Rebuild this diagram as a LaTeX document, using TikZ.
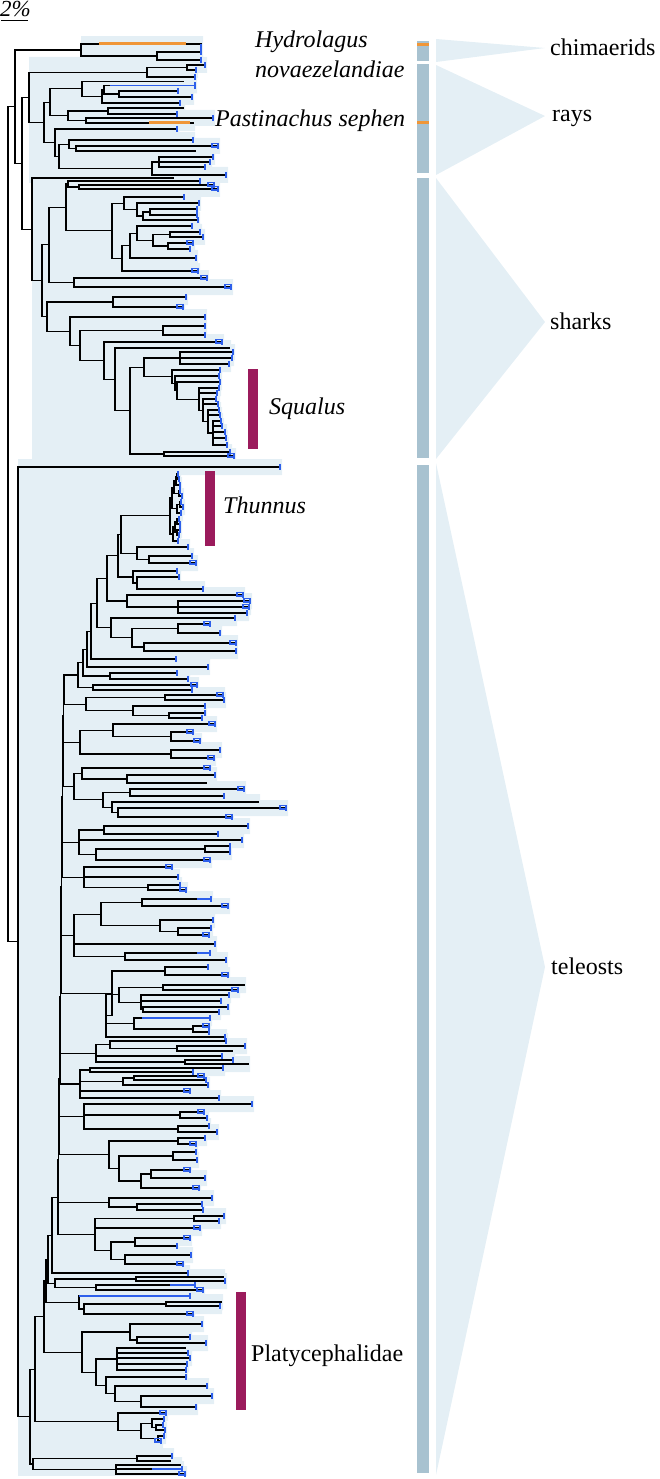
\documentclass[tikz,border=0pt]{standalone}
\usepackage{fontspec}
\setmainfont{Liberation Serif}
\pgfdeclarelayer{bg}
\pgfsetlayers{bg,main}
\definecolor{shadec}{RGB}{228,239,245}
\definecolor{tipc}{RGB}{45,95,235}
\definecolor{orc}{RGB}{240,150,55}
\definecolor{barc}{RGB}{168,194,208}
\definecolor{magc}{RGB}{155,27,92}
\tikzset{
  br/.style={line width=1.05pt, line cap=rect, black},
  lab/.style={font=\fontsize{24}{28}\selectfont, inner sep=0pt, anchor=base west},
  ilab/.style={font=\fontsize{24}{28}\selectfont\itshape, inner sep=0pt, anchor=base west},
  barbox/.style={fill=barc, draw=none},
  magbar/.style={fill=magc, draw=none},
  tri/.style={fill=shadec, draw=none}
}
\newcount\tsd \tsd=0
\newcount\tsi
\def\shx{18}
\gdef\bgpath{}\gdef\tickpath{}\gdef\tuftpath{}\gdef\bluepath{}\gdef\orpath{}
\def\tS#1{\gdef\shx{#1}}
\def\tpush#1#2{\global\advance\tsd by 1
  \expandafter\xdef\csname tX\the\tsd\endcsname{#1}%
  \expandafter\xdef\csname tY\the\tsd\endcsname{#2}}
\def\tshade#1#2{\xdef\bgpath{\unexpanded\expandafter{\bgpath} (\shx,#1-8) rectangle (#2+2,#1+8)}}
\def\ttick#1#2{\xdef\tickpath{\unexpanded\expandafter{\tickpath} (#2,#1-3.2) -- (#2,#1+3.2)}}
\def\ttuft#1#2{\xdef\tuftpath{\unexpanded\expandafter{\tuftpath} (#2,#1-2.4) -- (#2-6,#1-2.4) -- (#2-6,#1+1) -- (#2,#1+1)}}
\def\tblue#1#2#3{\xdef\bluepath{\unexpanded\expandafter{\bluepath} (#2,#1) -- (#3,#1)}}
\def\torange#1#2#3{\xdef\orpath{\unexpanded\expandafter{\orpath} (#2,#1-0.4) -- (#3,#1-0.4)}}
\def\tL#1#2{\tshade{#1}{#2}\ttick{#1}{#2}\tpush{#2}{#1}}
\def\tN#1#2{\tshade{#1}{#2}\tpush{#2}{#1}}
\def\tB#1#2#3{\tshade{#1}{#3}\tblue{#1}{#2}{#3}\ttick{#1}{#3}\tpush{#3}{#1}}
\def\tT#1#2{\tshade{#1}{#2}\ttuft{#1}{#2}\ttick{#1}{#2}\tpush{#2}{#1}}
\def\tO#1#2#3#4{\tshade{#1}{#4}\torange{#1}{#2}{#3}\tpush{#4}{#1}}
\def\tJloop{%
  \edef\tjcx{\csname tX\the\tsi\endcsname}\edef\tjcy{\csname tY\the\tsi\endcsname}%
  \draw[br] (\tjx,\tjcy) -- (\tjcx,\tjcy);
  \ifnum\tsi<\tsd \advance\tsi by 1 \expandafter\tJloop \fi}
\def\tJ#1#2{%
  \tsi=\tsd \advance\tsi by -#1 \advance\tsi by 1
  \edef\jfy{\csname tY\the\tsi\endcsname}%
  \edef\jly{\csname tY\the\tsd\endcsname}%
  \def\tjx{#2}%
  \draw[br] (\tjx,\jfy) -- (\tjx,\jly);
  \tJloop
  \global\advance\tsd by -#1
  \pgfmathsetmacro\jmid{(\jfy+\jly)/2}%
  \tpush{#2}{\jmid}}
\begin{document}
\begin{tikzpicture}[x=1pt,y=-1pt]
\useasboundingbox (0,0) rectangle (659,1479);
% scale bar
\node[font=\fontsize{23}{26}\selectfont\itshape, inner sep=0pt, anchor=base west] (scl) at (0,17) {2\%};
\draw[line width=1pt] (1,21) -- (28,21);
% ---------------- chimaerids
\tS{81}
\tO{44}{99}{186}{201}\ttick{47}{201}
\tL{52}{201}\tL{60}{201}\tJ{2}{157}
\tJ{2}{81}
% ---------------- rays
\tS{29}
\tL{65}{205}\tL{70}{196}\tJ{2}{187}\tL{77}{195}\tJ{2}{147}
\tN{81.5}{183}\tB{85.5}{110}{195}\tL{91}{178}\tL{97}{192}\tJ{2}{119}\tJ{2}{104}\tL{103}{180}\tJ{2}{102}\tJ{2}{82}
\tN{108}{183}\tL{114}{177}\tJ{2}{108}\tL{118}{213}\tO{123}{149}{190}{193}\tJ{2}{86}\tJ{2}{68}
\tJ{2}{50}
\tL{129}{177}\tL{140}{193}\tT{146}{218}\tN{151}{195}\tJ{2}{76}\tJ{2}{69}\tL{157}{213}\tL{162}{210}\tL{167}{205}\tJ{3}{159}\tL{175}{226}\tJ{2}{152}\tJ{2}{59}\tJ{2}{55}
\tJ{2}{44}
\tJ{2}{29}
% ---------------- sharks
\tS{32}
\tN{178}{173}
\tL{181}{200}\tT{185}{214}\tT{189}{218}\tJ{2}{79}\tJ{2}{68}
\tL{197}{184}\tL{203}{199}\tL{209}{197}\tL{215}{197}\tJ{2}{150}\tL{220}{198}\tJ{2}{143}\tJ{2}{137}\tJ{2}{124}
\tL{226}{192}\tL{232}{200}\tL{237}{203}\tJ{2}{170}\tT{243}{193}\tL{249}{190}\tJ{2}{168}\tJ{2}{153}\tJ{2}{137}\tL{258}{196}\tJ{2}{130}\tT{271}{198}\tJ{2}{122}
\tJ{2}{112}
\tJ{2}{66}
\tT{278}{207}\tT{287}{231}\tJ{2}{74}
\tJ{2}{49}
\tL{297}{186}\tT{307}{183}\tJ{2}{113}
\tL{317}{205}
\tL{326}{205}\tL{335}{205}\tJ{2}{163}
\tT{342}{222}
\tN{348}{229}
\tL{352}{233}\tL{358}{232}\tL{364}{229}\tJ{3}{180}
\tL{370}{220}\tL{376}{219}\tL{382}{220}\tL{388}{219}\tL{393}{217}\tL{399}{216}\tL{404}{218}\tL{410}{219}\tL{415}{220}\tL{421}{221}\tL{426}{222}\tL{432}{225}\tL{438}{226}\tL{445}{227}
\tJ{5}{213}\tJ{3}{208}\tJ{3}{203}\tJ{3}{199}\tJ{2}{177}\tJ{2}{175}\tJ{2}{172}
\tJ{2}{144}
\tL{452}{230}\tT{456}{234}\tJ{2}{164}
\tJ{2}{130}
\tJ{2}{115}
\tJ{2}{104}
\tJ{2}{80}
\tJ{2}{70}
\tJ{2}{47}
\tJ{2}{42}
\tJ{2}{32}
\tJ{2}{22}
\tJ{2}{15}
% ---------------- teleosts
\tS{18}
\tL{467}{280}
% Thunnus
\tL{474}{178}\tL{479}{179}\tJ{2}{177}\tL{485}{180}\tJ{2}{176}\tL{491}{180}\tL{496}{182}\tJ{2}{179}\tJ{2}{174}\tL{502}{181}\tL{507}{183}\tJ{2}{180}\tL{513}{181}\tJ{2}{177}\tJ{2}{172}\tL{519}{179}\tL{524}{180}\tJ{2}{177}\tL{530}{180}\tL{535}{179}\tJ{2}{177}\tJ{2}{175}\tL{541}{178}\tJ{2}{173}\tJ{2}{170}
\tL{547}{188}\tL{556}{192}\tT{563}{196}\tJ{2}{149}\tJ{2}{137}
\tJ{2}{121}
\tL{571}{177}\tL{577}{179}\tL{589}{203}\tJ{2}{137}\tJ{2}{133}
\tJ{2}{118}
\tT{595}{243}\tT{601}{250}\tT{607}{249}\tL{613}{247}\tJ{3}{178}\tJ{2}{127}
\tJ{2}{107}
\tL{618}{235}\tT{624}{210}\tL{633}{220}\tJ{2}{178}\tT{643}{236}\tL{651}{236}\tJ{2}{144}\tJ{2}{132}\tJ{2}{111}
\tJ{2}{97}
\tL{659}{176}\tJ{2}{91}
\tL{667}{208}\tJ{2}{87}
\tL{673}{177}\tL{679}{188}\tJ{2}{110}\tJ{2}{83}
\tT{685}{197}\tL{690}{192}\tJ{2}{93}\tJ{2}{78}
% Q
\tT{695}{223}\tL{700}{224}\tJ{2}{165}\tL{706}{205}\tL{713}{205}\tL{718}{202}\tJ{2}{169}\tJ{2}{133}\tJ{2}{86}
\tJ{2}{64}
\tT{724}{215}\tT{732}{193}\tT{741}{200}\tJ{2}{171}\tJ{2}{113}\tL{750}{220}\tT{758}{214}\tJ{2}{171}\tJ{2}{80}
\tJ{2}{63.5}
\tT{768}{210}\tL{775}{215}\tN{783}{206}\tJ{2}{127}\tJ{2}{82}
\tT{789}{244}\tL{796}{224}\tJ{2}{130}\tN{802}{258}\tT{808}{286}\tT{817}{232}\tJ{2}{118}\tJ{2}{112}\tJ{2}{103}\tJ{2}{74}
\tJ{2}{63}
\tL{826}{248}\tL{834}{218}\tJ{2}{104}\tL{840}{242}\tL{846}{230}\tL{852}{230}\tJ{2}{205}\tT{860}{210}\tJ{2}{96}\tJ{3}{79}
\tJ{2}{62.5}
\tT{867}{172}\tL{877}{178}\tL{885}{180}\tT{890}{186}\tJ{2}{148}\tJ{3}{84}
\tJ{2}{62}
\tB{899}{197}{211}\tT{906}{228}\tJ{2}{142}\tL{920}{213}\tL{928}{211}\tT{935}{209}\tJ{2}{178}\tJ{2}{160}\tJ{2}{101}\tL{944}{215}\tB{953}{197}{210}\tL{960}{226}\tJ{2}{125}\tJ{3}{74}
\tJ{2}{61.5}
% R
\tL{967}{208}\tT{975}{228}\tJ{2}{165}
\tN{985}{244}\tT{990}{238}\tJ{2}{163}\tL{995}{229}\tL{1001}{221}\tL{1007}{228}\tL{1012}{219}\tJ{2}{143}\tJ{3}{141}\tJ{2}{119}
\tB{1018}{142}{210}\tT{1026}{209}\tL{1032}{209}\tJ{2}{193}\tJ{2}{134}\tL{1037}{225}\tJ{3}{106}
\tJ{2}{112}
\tJ{2}{61}
\tL{1041}{226}\tL{1046}{245}\tN{1051}{232}\tJ{2}{177}\tJ{2}{110}\tL{1056}{222}\tL{1060}{233}\tN{1064}{248}\tJ{2}{185}\tJ{3}{96}
\tJ{2}{60.5}
\tL{1068}{223}\tL{1072}{193}\tJ{2}{90}\tT{1076}{204}\tL{1080}{206}\tJ{2}{134}\tL{1085}{208}\tJ{2}{123}\tT{1091}{190}\tL{1098}{219}\tJ{4}{80}
\tJ{2}{60}
\tL{1104}{252}\tT{1112}{204}\tL{1118}{207}\tJ{2}{180}\tL{1126}{209}\tL{1132}{217}\tJ{2}{178}\tJ{3}{84}
\tJ{2}{59.5}
\tL{1138}{205}\tT{1144}{196}\tJ{2}{178}\tL{1152}{196}\tL{1160}{197}\tJ{2}{173}\tT{1170}{190}\tL{1178}{205}\tJ{2}{151}\tT{1188}{199}\tJ{2}{141}\tJ{2}{119}\tJ{2}{109}
\tJ{2}{59}
\tL{1198}{212}\tL{1204}{202}\tL{1210}{203}\tJ{2}{137}\tJ{2}{109}
\tJ{2}{58.5}
\tL{1216}{224}\tL{1221}{219}\tJ{2}{194}\tT{1228}{200}\tT{1238}{190}\tL{1246}{177}\tJ{2}{135}\tL{1255}{191}\tT{1264}{183}\tJ{2}{125}\tJ{2}{111}\tJ{3}{95}
\tJ{2}{58}
\tL{1273}{188}\tJ{2}{52}
\tN{1277}{223}\tL{1281}{225}\tJ{2}{136}\tB{1285}{170}{195}\tT{1290}{203}\tJ{2}{96}\tJ{2}{55}
\tJ{2}{48}
% Platycephalidae region
\tB{1296}{79}{190}\tN{1302}{221}\tL{1306}{220}\tJ{2}{166}\tT{1314}{193}\tJ{2}{84}\tJ{2}{79}
\tJ{2}{46}
\tL{1324}{202}\tL{1337}{190}\tL{1343}{206}\tJ{2}{137}\tJ{2}{130}
\tN{1348}{185}\tL{1353}{188}\tL{1358}{190}\tL{1364}{187}\tL{1370}{186}\tJ{5}{117}
\tL{1377}{186}\tL{1386}{207}\tL{1396}{212}\tL{1407}{196}\tJ{2}{141}\tJ{2}{115}\tJ{2}{106}\tJ{2}{96}
\tJ{2}{82}
\tJ{2}{44}
\tT{1413}{166}\tL{1419}{164}\tL{1425}{163}\tL{1430}{165}\tJ{2}{156}\tJ{2}{152}\tL{1436}{164}\tT{1441}{161}\tJ{2}{158}\tJ{2}{141}\tJ{2}{118}
\tJ{2}{35}
\tL{1456}{172}\tN{1461}{170}\tJ{2}{137}\tN{1465}{180}\tB{1469}{152}{182}\tT{1474}{185}\tJ{3}{116}\tJ{2}{33}
\tJ{2}{30}
\tJ{2}{18}
% root
\tJ{2}{8}
% ---------------- shading, tips
\begin{pgfonlayer}{bg}
\fill[shadec] \bgpath;
\fill[white] (0,0) rectangle (659,36);
\fill[white] (0,1476) rectangle (659,1479);
\end{pgfonlayer}
\draw[orc, line width=2.2pt] \orpath;
\draw[tipc, line width=1.8pt] \bluepath;
\draw[tipc, line width=1.6pt] \tuftpath;
\draw[tipc, line width=2.3pt] \tickpath;
% ---------------- clade bars and wedges
\fill[barbox] (417,41) rectangle (429,61);
\fill[barbox] (417,64) rectangle (429,173);
\fill[barbox] (417,178) rectangle (429,458);
\fill[barbox] (417,465) rectangle (429,1473);
\fill[orc] (417,43) rectangle (429,46);
\fill[orc] (417,121) rectangle (429,124.5);
\fill[tri] (436,39) -- (436,62) -- (545,48) -- cycle;
\fill[tri] (436,65) -- (436,175) -- (545,116) -- cycle;
\fill[tri] (436,178) -- (436,459) -- (545,322) -- cycle;
\fill[tri] (436,463) -- (436,1475) -- (545,967) -- cycle;
\fill[magbar] (248,369) rectangle (258,449);
\fill[magbar] (205,471) rectangle (215,546);
\fill[magbar] (236,1292) rectangle (246,1410);
% ---------------- labels
\node[ilab] (hyd) at (255,48) {Hydrolagus};
\node[ilab] (nov) at (255,78) {novaezelandiae};
\node[ilab] (pas) at (215,127) {Pastinachus sephen};
\node[ilab] (squ) at (269,414) {Squalus};
\node[ilab] (thu) at (223,513) {Thunnus};
\node[lab] (pla) at (251,1361) {Platycephalidae};
\node[lab] (chi) at (550,56) {chimaerids};
\node[lab] (ray) at (552,122) {rays};
\node[lab] (sha) at (550,329) {sharks};
\node[lab] (tel) at (551,974) {teleosts};
\end{tikzpicture}
\end{document}
